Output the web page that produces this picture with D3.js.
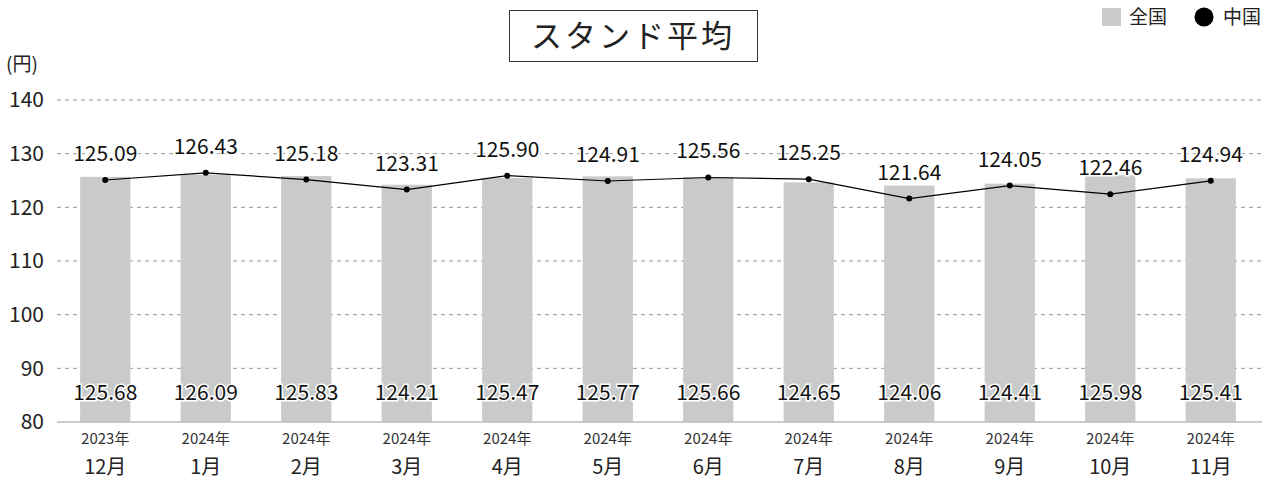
<!DOCTYPE html>
<html><head><meta charset="utf-8">
<script src="https://cdn.jsdelivr.net/npm/d3@7"></script>
<style>body{margin:0;background:#fff}svg{display:block;font-family:"Noto Sans CJK JP","Noto Sans",sans-serif}</style>
</head><body><svg id="c" width="1274" height="479"></svg>
<script>
const years = ["2023年","2024年","2024年","2024年","2024年","2024年","2024年","2024年","2024年","2024年","2024年","2024年"];
const months = ["12月","1月","2月","3月","4月","5月","6月","7月","8月","9月","10月","11月"];
const national = [125.68,126.09,125.83,124.21,125.47,125.77,125.66,124.65,124.06,124.41,125.98,125.41];
const chugoku = [125.09,126.43,125.18,123.31,125.90,124.91,125.56,125.25,121.64,124.05,122.46,124.94];
const yTicks = [80,90,100,110,120,130,140];

const svg = d3.select("#c");
const x = d3.scaleBand().domain(d3.range(12)).range([55,1261]).paddingInner(0.5).paddingOuter(0.25);
const y = d3.scaleLinear().domain([80,140]).range([422,100]);

// grid
svg.append("g").selectAll("line").data(yTicks.slice(1)).join("line")
  .attr("x1",57).attr("x2",1262).attr("y1",d=>y(d)).attr("y2",d=>y(d))
  .attr("stroke","#999").attr("stroke-dasharray","4,4").attr("stroke-width",1);

// bars
svg.append("g").selectAll("rect").data(national).join("rect")
  .attr("x",(d,i)=>x(i)).attr("width",x.bandwidth())
  .attr("y",d=>y(d)).attr("height",d=>y(80)-y(d)).attr("fill","#c9caca");

// axis line
svg.append("line").attr("x1",57).attr("x2",1262).attr("y1",y(80)).attr("y2",y(80)).attr("stroke","#bbb").attr("stroke-width",1.5);

// y ticks
svg.append("g").selectAll("text").data(yTicks).join("text")
  .attr("x",44).attr("y",d=>y(d)).attr("dy","0.35em").attr("text-anchor","end")
  .attr("font-size",21).attr("fill","#222").text(d=>d);
svg.append("text").attr("x",6).attr("y",71).attr("font-size",19).attr("fill","#222").text("(円)");

// line
const cx = i=>x(i)+x.bandwidth()/2;
svg.append("path").datum(chugoku).attr("fill","none").attr("stroke","#000").attr("stroke-width",1.2)
  .attr("d",d3.line().x((d,i)=>cx(i)).y(d=>y(d)));
svg.append("g").selectAll("circle").data(chugoku).join("circle")
  .attr("cx",(d,i)=>cx(i)).attr("cy",d=>y(d)).attr("r",3).attr("fill","#000");

// line labels
svg.append("g").selectAll("text").data(chugoku).join("text")
  .attr("x",(d,i)=>cx(i)).attr("y",d=>y(d)-19).attr("text-anchor","middle")
  .attr("font-size",21).attr("fill","#111")
  .attr("stroke","#fff").attr("stroke-width",3).attr("paint-order","stroke")
  .text(d=>d.toFixed(2));

// bar labels
svg.append("g").selectAll("text").data(national).join("text")
  .attr("x",(d,i)=>cx(i)).attr("y",400).attr("text-anchor","middle")
  .attr("font-size",21).attr("fill","#111")
  .attr("stroke","#fff").attr("stroke-width",3).attr("paint-order","stroke")
  .text(d=>d.toFixed(2));

// x labels
svg.append("g").selectAll("text").data(years).join("text")
  .attr("x",(d,i)=>cx(i)).attr("y",444).attr("text-anchor","middle")
  .attr("font-size",15).attr("fill","#333").text(d=>d);
svg.append("g").selectAll("text").data(months).join("text")
  .attr("x",(d,i)=>cx(i)).attr("y",474).attr("text-anchor","middle")
  .attr("font-size",20).attr("fill","#222").text(d=>d);

// title
svg.append("rect").attr("x",509.5).attr("y",10.5).attr("width",248).attr("height",51)
  .attr("fill","#fff").attr("stroke","#333").attr("stroke-width",1);
svg.append("text").attr("x",633).attr("y",36).attr("dy","0.35em").attr("text-anchor","middle")
  .attr("font-size",31).attr("fill","#222").attr("letter-spacing",3).text("スタンド平均");

// legend
svg.append("rect").attr("x",1102).attr("y",8).attr("width",19).attr("height",18).attr("fill","#c9caca");
svg.append("text").attr("x",1129).attr("y",17).attr("dy","0.35em").attr("font-size",19).attr("fill","#222").text("全国");
svg.append("circle").attr("cx",1204).attr("cy",17).attr("r",9.5).attr("fill","#000");
svg.append("text").attr("x",1223).attr("y",17).attr("dy","0.35em").attr("font-size",19).attr("fill","#222").text("中国");
</script></body></html>
